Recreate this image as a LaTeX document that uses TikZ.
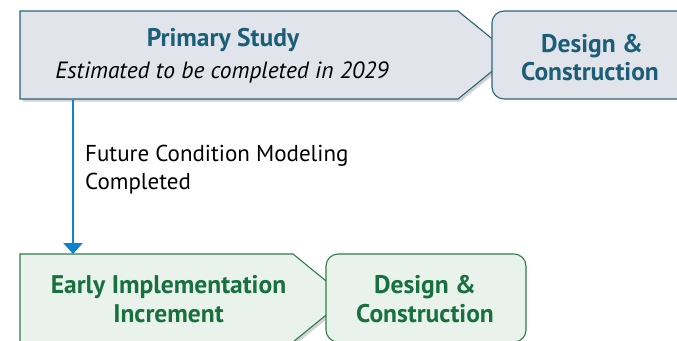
\documentclass[tikz,border=0pt]{standalone}
\usepackage{fontspec}
\setmainfont{PT Sans}
\usetikzlibrary{arrows.meta,shadows}

\definecolor{studyfill}{HTML}{E1E4EA}
\definecolor{studyline}{HTML}{2A6478}
\definecolor{studytext}{HTML}{1B5E78}
\definecolor{earlyfill}{HTML}{EAF2EC}
\definecolor{earlyline}{HTML}{2E7D4A}
\definecolor{earlytext}{HTML}{18703E}
\definecolor{flowblue}{HTML}{0F82CD}

\tikzset{
  stage/.style={line width=1.1pt, drop shadow={opacity=0.35, shadow xshift=2.5pt, shadow yshift=-2.5pt}},
  roundbox/.style={line width=1.1pt, rounded corners=12pt, minimum width=200pt, minimum height=88pt},
  headtext/.style={anchor=base, inner sep=0pt, font=\bfseries\fontsize{25.5}{29}\selectfont},
  bodytext/.style={anchor=base west, inner sep=0pt, font=\fontsize{23}{28}\selectfont},
}

\begin{document}
\begin{tikzpicture}[x=1pt,y=-1pt,>={Triangle[width=19pt,length=11pt]}]
    \useasboundingbox (0,0) rectangle (677,340);
    \clip (0,0) rectangle (677,340);

    % primary study
    \draw[stage, fill=studyfill, draw=studyline] (20,11) -- (458,11) -- (512,55) -- (458,99) -- (20,99) -- cycle;
    \node[headtext, text=studytext] (ps) at (223,46.7) {Primary Study};
    \node[anchor=base, inner sep=0pt, font=\itshape\fontsize{23.5}{28}\selectfont] (date) at (222,78.3) {Estimated to be completed in 2029};
    \node[roundbox, fill=studyfill, draw=studyline] (dc1) at (592,55) {};
    \node[headtext, text=studytext] (dc1-a) at (592,52) {Design \&};
    \node[headtext, text=studytext] (dc1-b) at (590,80) {Construction};

    % early implementation
    \draw[stage, fill=earlyfill, draw=earlyline] (20,254) -- (293,254) -- (347,298) -- (293,342) -- (20,342) -- cycle;
    \node[headtext, text=earlytext] (ei-a) at (168.5,293.7) {Early Implementation};
    \node[headtext, text=earlytext] (ei-b) at (168.5,322) {Increment};
    \node[roundbox, fill=earlyfill, draw=earlyline] (dc2) at (426,298) {};
    \node[headtext, text=earlytext] (dc2-a) at (425,293) {Design \&};
    \node[headtext, text=earlytext] (dc2-b) at (425,322) {Construction};

    % hand-off
    \coordinate (ps-b) at (73,100);
    \coordinate (ei-t) at (73,254);
    \draw[->, flowblue, line width=2.4pt] (ps-b) -- (ei-t);
    \node[bodytext] (fcm-a) at (85,161.7) {Future Condition Modeling};
    \node[bodytext] (fcm-b) at (85,189.3) {Completed};
\end{tikzpicture}
\end{document}
